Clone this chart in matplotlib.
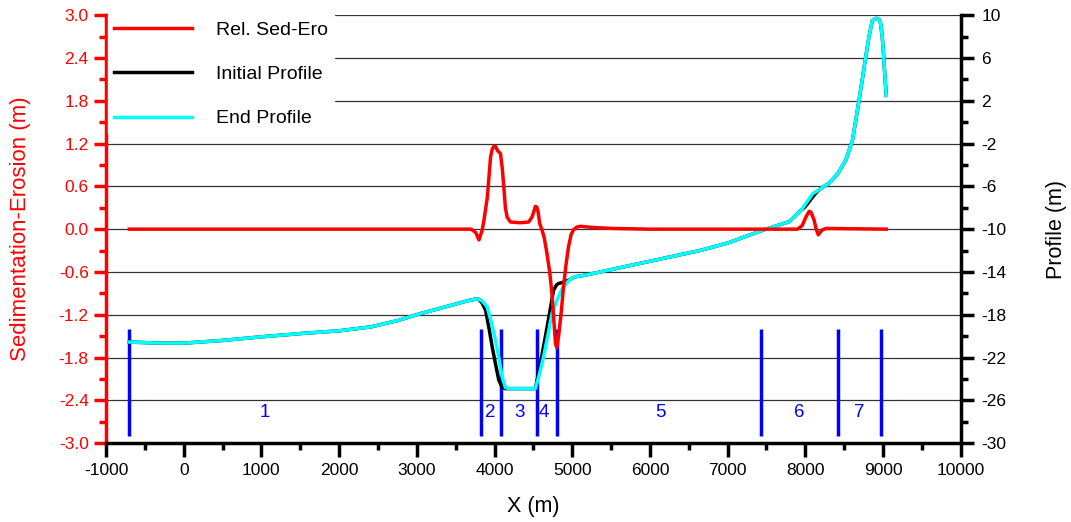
import numpy as np
import matplotlib
matplotlib.use('Agg')
import matplotlib.pyplot as plt
from matplotlib.ticker import MultipleLocator, FixedLocator, FuncFormatter

plt.rcParams['font.family'] = ['Liberation Sans', 'DejaVu Sans']
plt.rcParams['axes.unicode_minus'] = False

# Relative sedimentation - erosion (left axis, m)
sed_x = [-700, 3700, 3760, 3800, 3840, 3865, 3908, 3930, 3949, 3970, 3991, 4013, 4040, 4077,
         4100, 4120, 4140, 4162, 4205, 4333, 4440, 4483, 4510, 4526, 4545, 4560, 4581, 4611,
         4640, 4675, 4710, 4739, 4765, 4785, 4800, 4825, 4860, 4888, 4920, 4952, 4985, 5016,
         5060, 5102, 5200, 5316, 5530, 6000, 7900, 7960, 8008, 8050, 8072, 8095, 8115, 8140,
         8167, 8195, 8221, 8265, 9042]
sed_y = [0.0, 0.0, -0.05, -0.15, -0.02, 0.13, 0.45, 0.75, 1.01, 1.12, 1.16, 1.16, 1.10, 1.06,
         0.85, 0.59, 0.30, 0.17, 0.10, 0.09, 0.10, 0.17, 0.26, 0.32, 0.31, 0.25, 0.08, -0.01,
         -0.12, -0.34, -0.60, -0.90, -1.30, -1.60, -1.66, -1.50, -1.15, -0.81, -0.50, -0.25,
         -0.08, -0.01, 0.03, 0.04, 0.03, 0.02, 0.01, 0.0, 0.0, 0.05, 0.17, 0.25, 0.24, 0.18,
         0.12, 0.0, -0.08, -0.04, -0.01, 0.01, 0.0]

# Initial profile (right axis, m)
init_x = [-700, -300, 0, 500, 1000, 1513, 2000, 2410, 2750, 3051, 3400, 3650, 3778, 3798,
          3840, 3885, 3930, 3970, 4013, 4055, 4098, 4141, 4526, 4590, 4654, 4710, 4760, 4800,
          4824, 4910, 4970, 5038, 5167, 5359, 6000, 6641, 7000, 7452, 7795, 7950, 8000, 8094,
          8150, 8200, 8308, 8420, 8521, 8607, 8650, 8692, 8740, 8778, 8820, 8863, 8914, 8950,
          8970, 8990, 9004, 9020, 9042]
init_z = [-20.55, -20.65, -20.65, -20.4, -20.06, -19.75, -19.5, -19.13, -18.55, -17.88, -17.2,
          -16.7, -16.5, -16.55, -16.9, -17.57, -19.3, -21.0, -22.6, -24.1, -24.8, -24.9, -24.9,
          -22.6, -20.06, -17.8, -15.7, -15.2, -15.08, -14.9, -14.7, -14.45, -14.3, -14.0, -13.0,
          -12.0, -11.3, -10.1, -9.3, -8.2, -7.9, -7.0, -6.5, -6.2, -5.7, -4.8, -3.55, -1.7,
          0.2, 2.05, 4.3, 6.1, 8.0, 9.5, 9.7, 9.6, 9.2, 8.0, 6.7, 4.8, 2.5]

# End profile (right axis, m)
end_x = [-700, -300, 0, 500, 1000, 1513, 2000, 2410, 2750, 3051, 3400, 3650, 3778, 3840,
         3905, 3960, 4013, 4060, 4098, 4141, 4180, 4526, 4580, 4632, 4690, 4739, 4790, 4824,
         4870, 4910, 4970, 5038, 5167, 5359, 6000, 6641, 7000, 7452, 7795, 7950, 8094, 8200,
         8308, 8420, 8521, 8607, 8650, 8692, 8740, 8778, 8820, 8863, 8914, 8950, 8970, 8990,
         9004, 9020, 9042]
end_z = [-20.55, -20.65, -20.65, -20.4, -20.06, -19.75, -19.5, -19.13, -18.55, -17.88, -17.2,
         -16.7, -16.5, -16.7, -17.26, -18.7, -20.4, -22.2, -23.8, -24.8, -24.9, -24.9, -23.5,
         -21.9, -19.8, -17.9, -16.9, -16.3, -15.6, -15.2, -14.7, -14.45, -14.3, -14.0, -13.0,
         -12.0, -11.3, -10.1, -9.3, -8.2, -6.7, -6.2, -5.7, -4.8, -3.55, -1.7, 0.2, 2.05, 4.3,
         6.1, 8.0, 9.5, 9.7, 9.6, 9.2, 8.0, 6.7, 4.8, 2.5]

# Zone boundaries and zone labels
bounds = [-700, 3820, 4080, 4550, 4808, 7436, 8423, 8974]
zone_names = ['1', '2', '3', '4', '5', '6', '7']
zone_x = [1040, 3940, 4320, 4640, 6130, 7925, 8690]

fig, ax = plt.subplots(figsize=(10.71, 5.22), dpi=100)
fig.subplots_adjust(left=0.099, right=0.897, top=0.971, bottom=0.151)
ax2 = ax.twinx()

ax.set_xlim(-1000, 10000)
ax.set_ylim(-3.0, 3.0)

# grid on the left axis
ax.yaxis.grid(True, color='#333333', linewidth=0.9)
ax.set_axisbelow(True)

# zone lines (left axis units)
ax2.vlines(bounds, -2.9, -1.4, colors='#0000ff', linewidth=2.5, transform=ax.transData, zorder=1)
for nm, zx in zip(zone_names, zone_x):
    ax2.text(zx, -2.57, nm, color='#0000ff', fontsize=13.5, ha='center', va='center',
             transform=ax.transData)

l_init, = ax2.plot(init_x, init_z, color='black', linewidth=2.5, zorder=2, label='Initial Profile')
l_end, = ax2.plot(end_x, end_z, color='#00ffff', linewidth=2.5, zorder=3, label='End Profile')
l_sed, = ax2.plot(sed_x, sed_y, color='#ff0000', linewidth=2.5, zorder=4, transform=ax.transData,
                  label='Rel. Sed-Ero')
ax2.set_ylim(-30, 10)

leg = ax2.legend(handles=[l_sed, l_init, l_end], loc='upper left', bbox_to_anchor=(0.0025, 1.0),
                 fontsize=14, frameon=True, fancybox=False, edgecolor='white', framealpha=1,
                 handlelength=4.0, handletextpad=1.25, labelspacing=1.38, borderpad=0.3,
                 borderaxespad=0.0)
leg.set_zorder(10)

# left axis styling
def fmt_left(v, pos):
    s = '%.1f' % v
    return '0.0' if s == '-0.0' else s

ax.yaxis.set_major_locator(MultipleLocator(0.6))
ax.yaxis.set_minor_locator(MultipleLocator(0.3))
ax.yaxis.set_major_formatter(FuncFormatter(fmt_left))
ax.xaxis.set_major_locator(MultipleLocator(1000))
ax.xaxis.set_minor_locator(MultipleLocator(500))
ax.tick_params(axis='y', which='major', colors='#ff0000', length=9, width=2.5, labelsize=12.5)
ax.tick_params(axis='y', which='minor', colors='#ff0000', length=5, width=2.5)
ax.tick_params(axis='x', which='major', length=10, width=2.5, labelsize=12.5, pad=4)
ax.tick_params(axis='x', which='minor', length=5, width=2.5)
ax.spines['left'].set_color('#ff0000')
ax.spines['left'].set_linewidth(2.5)
ax.spines['bottom'].set_linewidth(2.5)
ax.spines['top'].set_visible(False)
ax.spines['right'].set_visible(False)
ax.set_ylabel('Sedimentation-Erosion (m)', color='#ff0000', fontsize=16, labelpad=20)
ax.set_xlabel('X (m)', fontsize=15.5, labelpad=13)

# right axis styling
ax2.yaxis.set_major_locator(FixedLocator(np.arange(-30, 11, 4)))
ax2.yaxis.set_minor_locator(FixedLocator(np.arange(-28, 10, 4)))
ax2.tick_params(axis='y', which='major', length=9, width=2.5, labelsize=12.5, pad=6)
ax2.tick_params(axis='y', which='minor', length=5, width=2.5)
for s in ['left', 'top', 'bottom']:
    ax2.spines[s].set_visible(False)
ax2.spines['right'].set_linewidth(2.5)
ax2.set_ylabel('Profile (m)', fontsize=15.5, labelpad=28)

plt.savefig('out.png', dpi=100)
